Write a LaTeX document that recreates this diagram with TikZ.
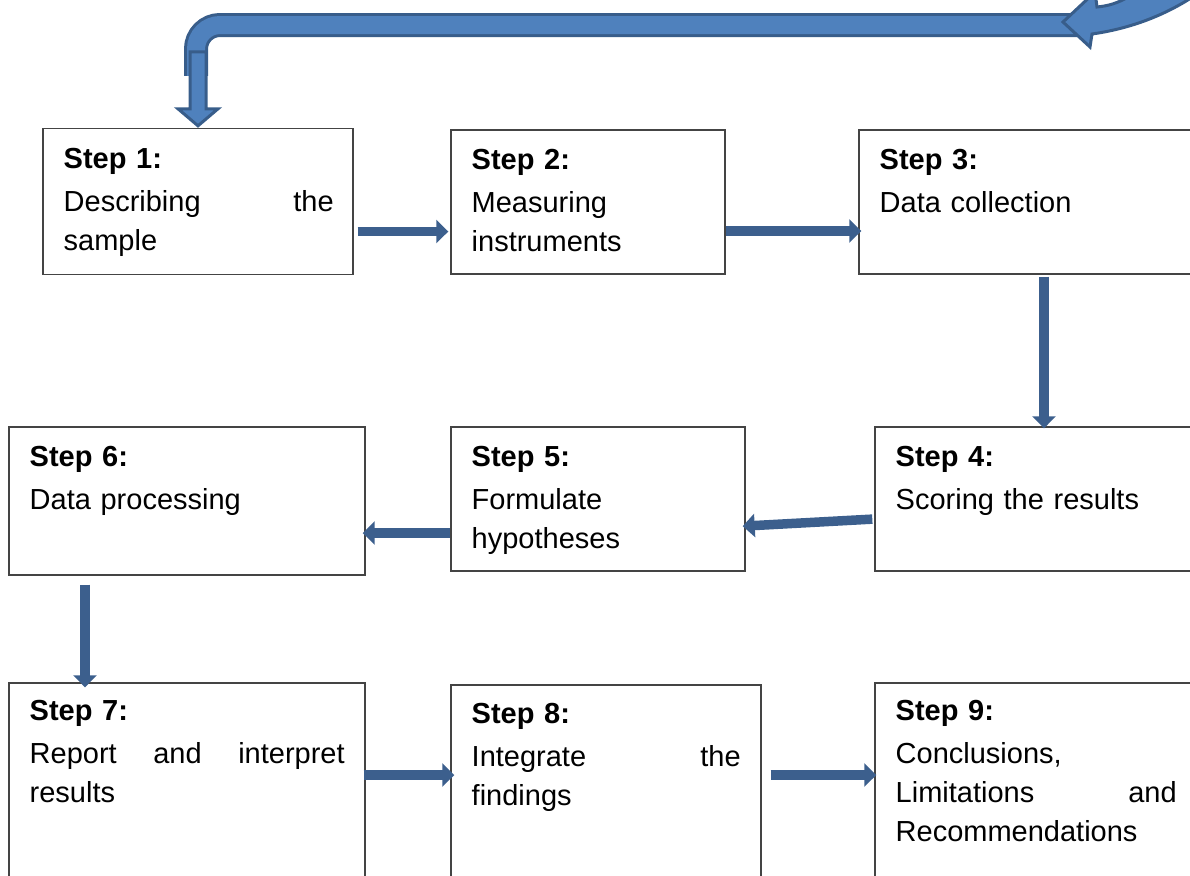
\documentclass[tikz,border=0pt]{standalone}
\usepackage{fontspec}
\setmainfont{Liberation Sans}
\usetikzlibrary{arrows.meta, calc}
\definecolor{flowBlue}{HTML}{3C5F8D}
\definecolor{loopFill}{HTML}{4F81BD}
\definecolor{loopLine}{HTML}{385D8A}
\definecolor{boxLine}{HTML}{444444}
\tikzset{
  stepbox/.style  = {draw=boxLine, line width=0.7pt, inner sep=0pt},
  steptxt/.style  = {anchor=north west, inner sep=0pt, align=left,
                     font=\fontsize{14.5}{19.5}\selectfont},
  flow/.style     = {-{Triangle[width=11.5pt,length=6pt]}, flowBlue, line width=4.75pt},
  loopband/.style = {loopLine, line width=1.5pt, double=loopFill,
                     double distance=9pt, rounded corners=12pt},
  loophead/.style = {fill=loopFill, draw=loopLine, line width=1.5pt},
}

\begin{document}
\begin{tikzpicture}[x=0.5pt,y=-0.5pt]
  \useasboundingbox (0,0) rectangle (1190,875);
  \clip (0,0) rectangle (1190,875);
  % boxes
  \foreach \n/\cx/\cy/\w/\h in {1/198/201.5/155pt/73pt, 2/588/202/137pt/72pt,
      3/1029.5/202/170.5pt/72pt, 4/1037.5/499/162.5pt/72pt, 5/598/499/147pt/72pt,
      6/187/501/178pt/74pt, 7/187/786.5/178pt/103.5pt, 8/606/787.5/155pt/102.5pt,
      9/1037.5/786.5/162.5pt/103.5pt}
    \node[stepbox, minimum width=\w, minimum height=\h] (s\n) at (\cx,\cy) {};
  % texts
  \node[steptxt, text width=135pt] (t1) at ([shift={(21,20)}]s1.north west)
    {\textbf{Step 1:}\\[2pt]Describing\hfill the\\sample};
  \node[steptxt, text width=115pt] (t2) at ([shift={(21,20)}]s2.north west)
    {\textbf{Step 2:}\\[2pt]Measuring\\instruments};
  \node[steptxt, text width=140pt] (t3) at ([shift={(21,20)}]s3.north west)
    {\textbf{Step 3:}\\[2pt]Data collection};
  \node[steptxt, text width=150pt] (t4) at ([shift={(21,20)}]s4.north west)
    {\textbf{Step 4:}\\[2pt]Scoring the results};
  \node[steptxt, text width=120pt] (t5) at ([shift={(21,20)}]s5.north west)
    {\textbf{Step 5:}\\[2pt]Formulate\\hypotheses};
  \node[steptxt, text width=150pt] (t6) at ([shift={(21,20)}]s6.north west)
    {\textbf{Step 6:}\\[2pt]Data processing};
  \node[steptxt, text width=157.5pt] (t7) at ([shift={(21,18)}]s7.north west)
    {\textbf{Step 7:}\\[2pt]Report\hfill and\hfill interpret\\results};
  \node[steptxt, text width=134.5pt] (t8) at ([shift={(21,19)}]s8.north west)
    {\textbf{Step 8:}\\[2pt]Integrate\hfill the\\findings};
  \node[steptxt, text width=140.5pt] (t9) at ([shift={(21,18)}]s9.north west)
    {\textbf{Step 9:}\\[2pt]Conclusions,\\Limitations\hfill and\\Recommendations};
  % straight connectors
  \draw[flow, shorten <=2pt, shorten >=1pt] ([yshift=-15pt]s1.east) -- ([yshift=-15pt]s1.east -| s2.west);
  \draw[flow, shorten >=-1.5pt] ([yshift=-14.5pt]s2.east) -- ([yshift=-14.5pt]s2.east -| s3.west);
  \draw[flow, shorten <=1pt, shorten >=-1pt] ([xshift=7.25pt]s3.south) -- ([xshift=7.25pt]s3.south |- s4.north);
  \draw[flow, shorten <=1pt, shorten >=-1.5pt] ([yshift=-10pt]s4.west) -- ([yshift=-13.5pt]s5.east);
  \draw[flow, shorten >=-1.5pt] ([yshift=-17pt]s5.west) -- ([yshift=-17pt]s5.west -| s6.east);
  \draw[flow, shorten <=4.5pt, shorten >=-2.5pt] ([xshift=-51pt]s6.south) -- ([xshift=-51pt]s6.south |- s7.north);
  \draw[flow, shorten <=-1pt, shorten >=-2pt] ([yshift=5.75pt]s7.east) -- ([yshift=5.75pt]s7.east -| s8.west);
  \draw[flow, shorten <=4.5pt, shorten >=-1pt] ([yshift=6.25pt]s8.east) -- ([yshift=6.25pt]s8.east -| s9.west);
  % loop back to step 1
  \coordinate (loopstart) at (1085,25);
  \draw[loopband] (loopstart) -| ([xshift=-1pt,yshift=26pt]s1.north);
  \draw[loophead] (1063,22) -- (1095,-8) -- (1097,7) .. controls (1108,6) and (1118,3) .. (1128,-3)
    -- (1128,-20) -- (1200,-20) -- (1200,-8) .. controls (1160,20) and (1120,30) .. (1092,34)
    -- (1090,47) -- cycle;
  \draw[loophead, shift={(s1.north)}] (-8,-76) -- (-8,-19) -- (-20,-19) -- (0,-2) -- (20,-19)
    -- (8,-19) -- (8,-76) -- cycle;
\end{tikzpicture}
\end{document}
